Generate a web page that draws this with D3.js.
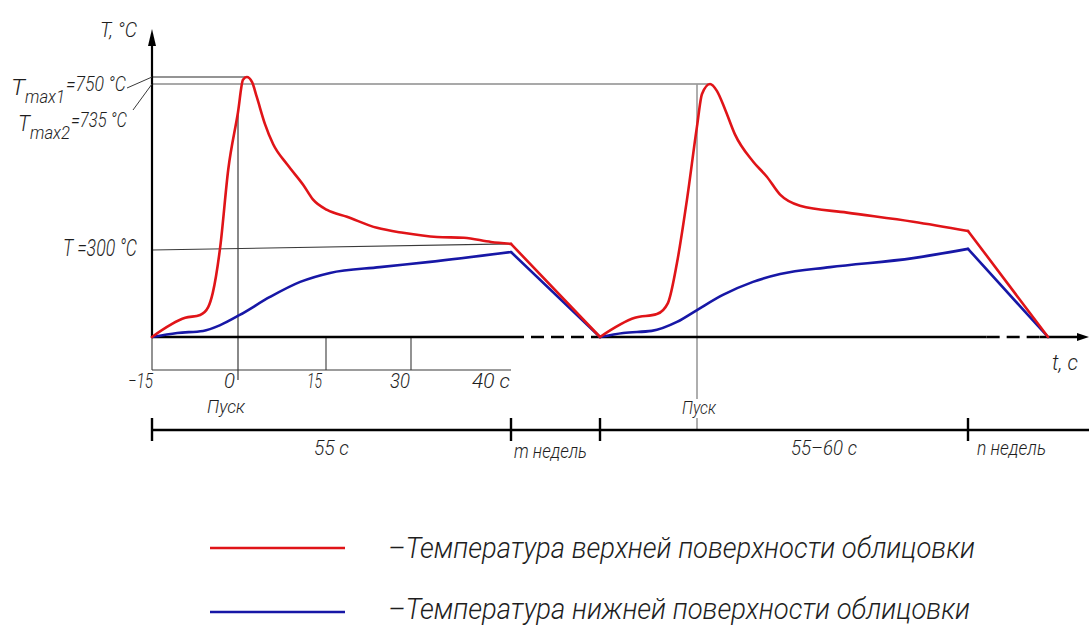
<!DOCTYPE html>
<html>
<head>
<meta charset="utf-8">
<script src="https://cdn.jsdelivr.net/npm/d3@7"></script>
<style>
  body { margin: 0; background: #fff; }
  text {
    font-family: Roboto, "Liberation Sans Narrow", "DejaVu Sans Condensed", sans-serif;
    font-weight: 300;
    font-style: italic;
    fill: #1e1e1e;
  }
</style>
</head>
<body>
<svg id="chart" width="1089" height="628"></svg>
<script>
// Schematic time axis: cycle 1 seconds, pause of m weeks, cycle 2, pause of n weeks
const timeKnots  = [-15, 0, 15, 30, 40, 55, 70, 115, 130];
const tickValues = [-15, 0, 15, 30, 40];
const tickLabels = ['−15', '0', '15', '30', '40 с'];
// where each cycle's local time (0 = «Пуск») sits on the shared axis
const cycleShift = [0, 70];
// moment the lining has cooled back down (end of the pause)
const coolEnd = [55, 130];

// Temperature levels marked on the vertical axis
const tempKnots = [0, 300, 735, 750];
const tMax1 = 750, tMax2 = 735, tRef = 300;

// Cycle 1 — upper surface
const upper1Time = [-15, -9.2, -6.6, -5.2, -4.4, -3.1, -1.7, 0, 0.85, 1.5, 2.4, 3.2, 4.6, 6.0, 8.4, 11.1, 12.8, 15.2, 18.7, 24, 28.6, 32.6, 35.3, 38, 40];
const upper1Temp = [0, 66, 76, 103, 152, 308, 511, 661, 744, 750, 739, 701, 630, 577, 524, 471, 432, 405, 387, 358, 345, 334, 332, 321, 316];
// Cycle 1 — lower surface
const lower1Time = [-15, -10.6, -6.1, -3.1, 0.3, 5.45, 10.6, 15.7, 24.5, 31.9, 40];
const lower1Temp = [0, 14, 21, 41, 76, 138, 190, 221, 241, 259, 293];

// Cycle 2 — upper surface
const upper2Time = [-15, -9.6, -6.2, -4.5, -3.1, -1.55, 0, 0.83, 2.16, 3.3, 4.65, 6.3, 9.3, 11.6, 13.8, 17.1, 24.9, 35.9, 45];
const upper2Temp = [0, 66, 79, 117, 255, 432, 624, 709, 735, 717, 669, 603, 532, 492, 445, 416, 398, 374, 350];
// Cycle 2 — lower surface
const lower2Time = [-15, -11.4, -7, -3.1, 0, 4.3, 9.3, 13.8, 22.1, 35.9, 45];
const lower2Temp = [0, 14, 21, 52, 93, 145, 190, 217, 241, 272, 303];

const legendLabels = ['–Температура верхней поверхности облицовки', '–Температура нижней поверхности облицовки'];
const RED = '#e01418', BLUE = '#1717a6';

const svg = d3.select('#chart');

const x = d3.scaleLinear().domain(timeKnots).range([152, 238, 326, 411, 511, 600, 697, 968, 1048]);
const y = d3.scaleLinear().domain(tempKnots).range([337, 250, 84, 77]);

const x0 = x(-15), base = y(0);

function label(txt, px, py, size, opts = {}) {
  const t = svg.append('text')
    .attr('x', px).attr('y', py)
    .attr('font-size', size)
    .attr('text-anchor', opts.anchor || 'start')
    .text(txt);
  if (opts.width) t.attr('textLength', opts.width).attr('lengthAdjust', 'spacingAndGlyphs');
  return t;
}
function seg(x1, y1, x2, y2, color, w, dash) {
  const l = svg.append('line')
    .attr('x1', x1).attr('y1', y1).attr('x2', x2).attr('y2', y2)
    .attr('stroke', color).attr('stroke-width', w);
  if (dash) l.attr('stroke-dasharray', dash);
  return l;
}
// level label "T_max = value": one text with a subscript part
function levelLabel(px, py, sub, rest, widths) {
  const t = svg.append('text');
  const subX = px + widths[0];
  t.append('tspan').attr('x', px).attr('y', py).attr('font-size', 22)
    .attr('textLength', widths[0]).attr('lengthAdjust', 'spacingAndGlyphs').text('T');
  t.append('tspan').attr('x', subX).attr('y', py + 8).attr('font-size', 18)
    .attr('textLength', widths[1]).attr('lengthAdjust', 'spacingAndGlyphs').text(sub);
  t.append('tspan').attr('x', subX + widths[1] + 1).attr('y', py - 4).attr('font-size', 20)
    .attr('textLength', widths[2]).attr('lengthAdjust', 'spacingAndGlyphs').text(rest);
}

// ---- helper lines for the marked levels ----
const peak1 = upper1Time[upper1Temp.indexOf(d3.max(upper1Temp))];
const peak2 = upper2Time[upper2Temp.indexOf(d3.max(upper2Temp))] + cycleShift[1];
seg(x0, y(tMax1), x(peak1), y(tMax1), '#2b2b2b', 1.2);
seg(x0, y(tMax2), x(peak2), y(tMax2), '#8c8c8c', 1.4);
seg(x0, y(tRef), x(40), y(upper1Temp[upper1Temp.length - 1]), '#3a3a3a', 1.2);

// start marker of cycle 1 and tick guides below the axis
seg(x(0), y(upper1Temp[upper1Time.indexOf(0)]), x(0), base + 43, '#3a3a3a', 1.2);
[-15, 15, 30].forEach(v => seg(x(v), base, x(v), base + 33, '#4a4a4a', 1.2));
seg(x0, base + 33, x(40), base + 33, '#3a3a3a', 1.2);

// start marker of cycle 2 down to the time bar
seg(x(cycleShift[1]), y(tMax2), x(cycleShift[1]), 430, '#9a9a9a', 1.6);

// ---- axes ----
// horizontal axis: solid over the cycles, dashed over the pauses
seg(x0, base, x(40), base, '#000', 2.6);
seg(x(40), base, x(55), base, '#000', 2.6, '13 7');
seg(x(55), base, x(118.5), base, '#000', 2.6);
seg(x(118.5), base, x(128.5), base, '#000', 2.6, '13 7');
seg(x(128.5), base, 1080, base, '#000', 2.6);
svg.append('path').attr('d', `M1089,${base} L1077,${base - 4} L1077,${base + 4} Z`).attr('fill', '#000');

// vertical axis with arrow
seg(x0, base, x0, 42, '#000', 2.2);
svg.append('path').attr('d', `M${x0},29 L${x0 - 4},46 L${x0 + 4},46 Z`).attr('fill', '#000');

// ---- curves ----
const smooth = d3.line().x(d => x(d[0])).y(d => y(d[1])).curve(d3.curveMonotoneX);
const straight = d3.line().x(d => x(d[0])).y(d => y(d[1]));

function drawSeries(times, temps, shift, end, color) {
  const pts = times.map((t, i) => [t + shift, temps[i]]);
  const last = pts[pts.length - 1];
  const g = svg.append('g').attr('fill', 'none').attr('stroke', color)
    .attr('stroke-width', 2.6).attr('stroke-linejoin', 'round').attr('stroke-linecap', 'round');
  g.append('path').attr('d', smooth(pts));
  g.append('path').attr('d', straight([last, [end, 0]]));
}
drawSeries(lower1Time, lower1Temp, cycleShift[0], coolEnd[0], BLUE);
drawSeries(upper1Time, upper1Temp, cycleShift[0], coolEnd[0], RED);
drawSeries(lower2Time, lower2Temp, cycleShift[1], coolEnd[1], BLUE);
drawSeries(upper2Time, upper2Temp, cycleShift[1], coolEnd[1], RED);

// ---- axis titles and level labels ----
label('T,  °C', 100, 37, 21, { width: 37 });
label('t,  с', 1052, 370, 22, { width: 26 });

levelLabel(11, 95, 'max1', '=750 °C', [14, 40, 60]);
seg(127, 88, x0, y(tMax1), '#3a3a3a', 1);
levelLabel(18, 131, 'max2', '=735 °C', [12, 40, 56]);
seg(133, 110, x0, y(tMax2), '#3a3a3a', 1);

label('T =300 °C', 63, 256, 23, { width: 74 });

// ---- time ticks ----
const tickRight = [153, 235, 322, 410, 510];
const tickWidth = [25, 11, 15, 20, 38];
tickValues.forEach((v, i) => {
  label(tickLabels[i], tickRight[i], 388, 20, { anchor: 'end', width: tickWidth[i] });
});
label('Пуск', x(0) - 12, 413, 19, { anchor: 'middle', width: 38 });

svg.append('rect').attr('x', x(cycleShift[1]) - 17).attr('y', 399).attr('width', 36).attr('height', 19).attr('fill', '#fff');
label('Пуск', x(cycleShift[1]) + 2, 414, 19, { anchor: 'middle', width: 34 });

// ---- time bar ----
seg(x0, 430, 1089, 430, '#000', 2.4);
[x0, x(40), x(55), x(115)].forEach(px => seg(px, 418, px, 441, '#000', 2.4));
label('55 с', (x0 + x(40)) / 2, 455, 20, { anchor: 'middle', width: 35 });
label('m недель', x(40) + 3, 458, 20, { width: 73 });
label('55–60 с', 824, 455, 20, { anchor: 'middle', width: 66 });
label('n недель', x(115) + 9, 455, 20, { width: 69 });

// ---- legend ----
[RED, BLUE].forEach((c, i) => {
  const ly = 548 + i * 64;
  seg(210, ly, 345, ly, c, 2.6);
  label(legendLabels[i], 388, ly + (i ? 7 : 10), 29, { width: [587, 582][i] });
});
</script>
</body>
</html>
